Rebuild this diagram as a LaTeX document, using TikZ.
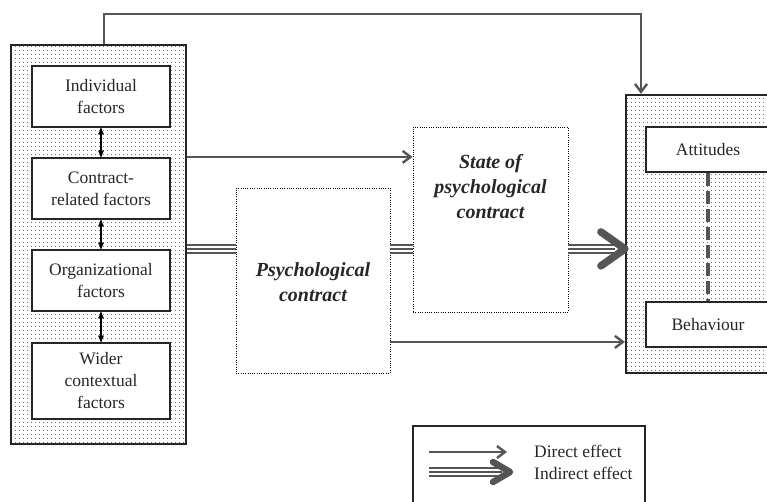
\documentclass[tikz,border=0pt]{standalone}
\usepackage{fontspec}
\setmainfont{Liberation Serif}
\usetikzlibrary{calc}
\usetikzlibrary{arrows,arrows.meta}
\usetikzlibrary{patterns,patterns.meta}

\definecolor{linegray}{HTML}{555555}

\begin{document}
\begin{tikzpicture}[x=1pt, y=-1pt,
  every node/.style={font=\fontsize{17.5}{22}\selectfont, align=center, inner sep=0pt, text=black!85},
  outerbox/.style={draw=black!85, line width=2.2pt, pattern={Dots[radius=0.6pt, distance=4pt]}, pattern color=black!75},
  factorbox/.style={draw=black!85, line width=2.2pt, fill=white, minimum width=138pt},
  dotbox/.style={draw=black, line width=0.9pt, dash pattern=on 0.9pt off 1.4pt},
  bolditalic/.style={font=\fontsize{20}{25}\selectfont\bfseries\itshape},
  direct/.style={draw=linegray, line width=2.4pt, -{Straight Barb[length=8pt, width=12pt]}},
  indirect/.style={draw=linegray, line width=10pt, postaction={draw=white, line width=6pt}, postaction={draw=linegray, line width=2.2pt}},
  bighead/.style={draw=linegray, line width=7.5pt, line cap=round, line join=round}]
\useasboundingbox (0,0) rectangle (767,501);

% left block
\node[outerbox, minimum width=175pt, minimum height=399pt] (factors) at (98.5,244.5) {};
\node[factorbox, minimum height=61pt] (ind) at (101,96.5) {Individual\\factors};
\node[factorbox, minimum height=61pt] (con) at (101,188.5) {Contract-\\related factors};
\node[factorbox, minimum height=61pt] (org) at (101,280.5) {Organizational\\factors};
\node[factorbox, minimum height=76pt] (wid) at (101,381) {Wider\\contextual\\factors};
\foreach \a/\b in {ind/con, con/org, org/wid} {
 \draw[black, line width=1.3pt, <->, >=stealth'] (\a) -- (\b);
}

% middle
\node[dotbox, minimum width=154pt, minimum height=185pt] (psy) at (313,280.5) {};
\node[bolditalic] (psytext) at (313,282) {Psychological\\contract};
\node[dotbox, minimum width=155pt, minimum height=185pt] (state) at (490.5,219.5) {};
\node[bolditalic] (statetext) at (490.5,187) {State of\\psychological\\contract};

% right block
\node[outerbox, minimum width=164pt, minimum height=278pt] (outcome) at (708,234) {};
\node[factorbox, minimum width=124pt, minimum height=45pt] (att) at (708,149.5) {Attitudes};
\node[factorbox, minimum width=124pt, minimum height=45pt] (beh) at (708,324.5) {Behaviour};
\draw[linegray, line width=4pt, dash pattern=on 13pt off 5pt] (att.south) -- (beh.north);

% connectors
\coordinate (topleft) at (104,14);
\draw[direct] (factors.north -| topleft) -- (topleft) -| ([xshift=-67pt]outcome.north);
\draw[direct] (con.north -| factors.east) -- (con.north -| state.west);
\draw[indirect] (org.north -| factors.east) -- (org.north -| psy.west);
\draw[indirect] (org.north -| psy.east) -- (org.north -| state.west);
\coordinate (tip) at (org.north -| outcome.west);
\draw[indirect] (org.north -| state.east) -- ([xshift=-10pt]tip);
\draw[bighead] ([xshift=-24pt,yshift=17pt]tip) -- (tip) -- ([xshift=-24pt,yshift=-17pt]tip);
\draw[direct] (wid.north -| psy.east) -- (wid.north -| outcome.west);

% legend
\node[draw=black!85, line width=1.5pt, minimum width=232pt, minimum height=90pt] (legend) at (529,471) {};
\node[anchor=west] (lgdir) at (534,451) {Direct effect};
\node[anchor=west] (lgind) at (534,473) {Indirect effect};
\coordinate (lgdirstart) at (429,452);
\coordinate (lgindstart) at (429,472);
\coordinate (lgtip) at (510,472);
\draw[direct] (lgdirstart) -- (507,452);
\draw[indirect] (lgindstart) -- ([xshift=-8pt]lgtip);
\draw[bighead, line width=6.5pt] ([xshift=-17pt,yshift=10pt]lgtip) -- (lgtip) -- ([xshift=-17pt,yshift=-10pt]lgtip);
\end{tikzpicture}
\end{document}
